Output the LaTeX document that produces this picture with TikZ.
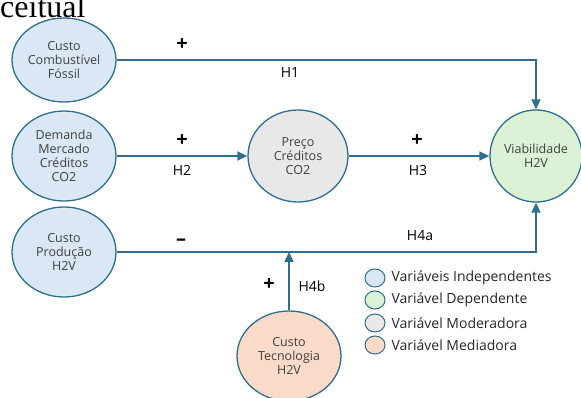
\documentclass[tikz,border=0pt]{standalone}
\usepackage{fontspec}
\setmainfont{Open Sans}
\newfontfamily\titlefont{Liberation Serif}
\usepackage{tikz}
\usetikzlibrary{positioning,shapes.geometric,arrows.meta}

\definecolor{linecol}{RGB}{46,110,142}
\definecolor{indepcol}{RGB}{218,232,246}
\definecolor{depcol}{RGB}{219,242,214}
\definecolor{modcol}{RGB}{232,232,232}
\definecolor{medcol}{RGB}{250,219,201}
\definecolor{txtcol}{RGB}{64,64,64}

\tikzset{
  var/.style={ellipse, draw=linecol, line width=1.3pt, minimum width=104pt,
    minimum height=90pt, align=center, text=txtcol, inner sep=0pt,
    font=\fontsize{12.5}{14}\selectfont},
  link/.style={draw=linecol, line width=1.5pt},
  arr/.style={link, -{Triangle[length=10pt,width=9pt]}},
  sign/.style={font=\bfseries\fontsize{20}{20}\selectfont},
  hyp/.style={font=\fontsize{14}{16}\selectfont},
  legdot/.style={ellipse, draw=linecol, line width=1pt, minimum width=20pt,
    minimum height=18pt, inner sep=0pt},
  legtxt/.style={anchor=west, text=black!85, font=\fontsize{14}{16}\selectfont}
}

\begin{document}
\begin{tikzpicture}[x=1pt,y=-1pt]
\useasboundingbox (0,0) rectangle (581,397);
\node[anchor=base west, inner sep=0pt, font=\titlefont\fontsize{32}{34}\selectfont] (ttl) at (0,17) {ceitual};

	% variaveis
	\node[var, fill=indepcol, minimum height=84pt] (cf) at (64,60) {Custo\\Combustível\\Fóssil};
	\node[var, fill=indepcol] (dm) at (64,156) {Demanda\\Mercado\\Créditos\\CO2};
	\node[var, fill=indepcol] (cp) at (64,252) {Custo\\Produção\\H2V};
	\node[var, fill=modcol, minimum width=100pt, minimum height=92pt] (pc) at (298,156) {Preço\\Créditos\\CO2};
	\node[var, fill=depcol, minimum width=92pt, minimum height=92pt] (vb) at (536,156) {Viabilidade\\H2V};
	\node[var, fill=medcol] (ct) at (289,356) {Custo\\Tecnologia\\H2V};
	\coordinate (m4) at (ct |- cp);

	% hipoteses
	\draw[arr] (cf) -| (vb);
	\draw[arr] (dm) -- (pc);
	\draw[arr] (pc) -- (vb);
	\draw[arr] (cp) -| (vb);
	\draw[arr] (ct) -- (m4);

	\node[sign] (s1) at (182,45) {+};
	\node[hyp] (h1) at (290,72) {H1};
	\node[sign] (s2) at (182,141) {+};
	\node[hyp] (h2) at (182,170) {H2};
	\node[sign] (s3) at (417,141) {+};
	\node[hyp] (h3) at (418,170) {H3};
	\node[sign] (s4a) at (181,242) {–};
	\node[hyp] (h4a) at (420,236) {H4a};
	\node[sign] (s4b) at (269,285) {+};
	\node[hyp] (h4b) at (312,286) {H4b};

	% legenda
	\node[legdot, fill=indepcol] (l1) at (375,278) {};
	\node[legdot, fill=depcol] (l2) at (375,300) {};
	\node[legdot, fill=modcol] (l3) at (375,323) {};
	\node[legdot, fill=medcol] (l4) at (375,345) {};
	\node[legtxt] (t1) at (388,278) {Variáveis Independentes};
	\node[legtxt] (t2) at (388,300) {Variável Dependente};
	\node[legtxt] (t3) at (388,323) {Variável Moderadora};
	\node[legtxt] (t4) at (388,345) {Variável Mediadora};
\end{tikzpicture}
\end{document}
